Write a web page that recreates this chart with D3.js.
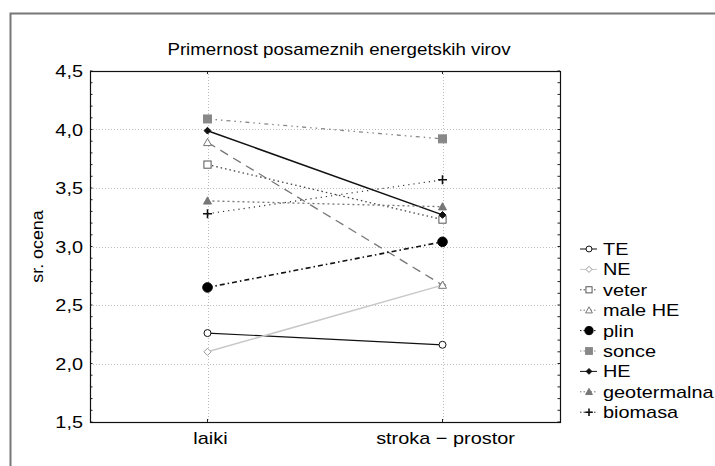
<!DOCTYPE html>
<html>
<head>
<meta charset="utf-8">
<script src="https://d3js.org/d3.v7.min.js"></script>
<style>
  body { margin: 0; background: #fff; }
  svg { display: block; font-family: "Liberation Sans", Arial, sans-serif; }
</style>
</head>
<body>
<svg id="chart" width="715" height="466"></svg>
<script>
const categories = ["laiki", "stroka \u2212 prostor"];
const seriesNames = ["TE", "NE", "veter", "male HE", "plin", "sonce", "HE", "geotermalna", "biomasa"];
const seriesValues = [
    [2.26, 2.16],
    [2.10, 2.67],
    [3.70, 3.23],
    [3.89, 2.67],
    [2.65, 3.04],
    [4.09, 3.92],
    [3.99, 3.27],
    [3.39, 3.34],
    [3.28, 3.57]
];
const yTicks = [1.5, 2.0, 2.5, 3.0, 3.5, 4.0, 4.5];

// line + marker look for each series
const styles = {
    "TE":          { stroke: "#111", width: 1.2, dash: null,           marker: "circle",   fill: "#fff", mstroke: "#111", size: 3.5 },
    "NE":          { stroke: "#c8c8c8", width: 1.5, dash: null,        marker: "diamond",  fill: "#fff", mstroke: "#999", size: 3.6 },
    "veter":       { stroke: "#444", width: 1.3, dash: "1.5,3",        marker: "square",   fill: "#fff", mstroke: "#555", size: 3.6 },
    "male HE":     { stroke: "#777", width: 1.3, dash: "9,6",          marker: "triangle", fill: "#fff", mstroke: "#777", size: 4 },
    "plin":        { stroke: "#111", width: 1.6, dash: "5,3,1.5,3",    marker: "circle",   fill: "#000", mstroke: "#000", size: 4.8 },
    "sonce":       { stroke: "#888", width: 1.3, dash: "4,4,1.5,4,1.5,4", marker: "square", fill: "#888", mstroke: "#888", size: 4 },
    "HE":          { stroke: "#111", width: 1.5, dash: null,           marker: "diamond",  fill: "#111", mstroke: "#111", size: 3.4 },
    "geotermalna": { stroke: "#777", width: 1.3, dash: "2,3",          marker: "triangle", fill: "#777", mstroke: "#777", size: 4 },
    "biomasa":     { stroke: "#333", width: 1.2, dash: "1.2,4",        marker: "plus",     fill: "none", mstroke: "#111", size: 4.5 }
};

const svg = d3.select("#chart");
const margin = { left: 90, top: 71, right: 560, bottom: 422 };
const w = margin.right - margin.left, h = margin.bottom - margin.top;
const SX = 1.17; // text in the original is a bit wide

// text helper, stretched horizontally
function label(sel, tx, ty, str, size, anchor) {
    return sel.append("text")
        .attr("transform", `translate(${tx},${ty}) scale(${SX},1)`)
        .attr("text-anchor", anchor || "start")
        .attr("font-size", size)
        .text(str);
}

// outer frame
svg.append("rect")
    .attr("x", 10.5).attr("y", 13.5)
    .attr("width", 760).attr("height", 500)
    .attr("fill", "none").attr("stroke", "#777").attr("stroke-width", 2);

const x = d3.scalePoint().domain(categories).range([0, w]).padding(0.5);
const y = d3.scaleLinear().domain([1.5, 4.5]).range([h, 0]);

const g = svg.append("g").attr("transform", `translate(${margin.left},${margin.top})`);

// grid
g.selectAll(".hgrid").data(yTicks.filter(t => t > 1.5 && t < 4.5)).join("line")
    .attr("x1", 0).attr("x2", w)
    .attr("y1", d => Math.round(y(d)) + 0.5).attr("y2", d => Math.round(y(d)) + 0.5)
    .attr("stroke", "#bbb").attr("stroke-dasharray", "1,2");
g.selectAll(".vgrid").data(categories).join("line")
    .attr("x1", d => Math.round(x(d)) + 0.5).attr("x2", d => Math.round(x(d)) + 0.5)
    .attr("y1", 0).attr("y2", h)
    .attr("stroke", "#bbb").attr("stroke-dasharray", "1,2");

// minor ticks on left and right edges
const minor = d3.range(15, 46).map(v => v / 10);
["left", "right"].forEach(side => {
    const x0 = side === "left" ? 0 : w;
    const dir = side === "left" ? 1 : -1;
    g.selectAll(".m" + side).data(minor).join("line")
        .attr("x1", x0).attr("x2", x0 + dir * 2.5)
        .attr("y1", d => y(d)).attr("y2", d => y(d))
        .attr("stroke", "#222");
});
// category ticks top and bottom
categories.forEach(c => {
    g.append("line").attr("x1", x(c)).attr("x2", x(c)).attr("y1", 0).attr("y2", 3).attr("stroke", "#222");
    g.append("line").attr("x1", x(c)).attr("x2", x(c)).attr("y1", h).attr("y2", h - 3).attr("stroke", "#222");
});

// plot frame
g.append("rect").attr("x", 0.5).attr("y", 0.5).attr("width", w).attr("height", h)
    .attr("fill", "none").attr("stroke", "#111").attr("stroke-width", 1.2);

// axis labels
yTicks.forEach(t => label(g, -7, y(t) + 6, d3.format(".1f")(t).replace(".", ","), 17, "end"));
categories.forEach(c => label(g, x(c) + 3, h + 22, c, 17, "middle"));

svg.append("text")
    .attr("transform", `translate(43,${margin.top + h / 2}) rotate(-90) scale(1.05,1)`)
    .attr("text-anchor", "middle").attr("font-size", 17)
    .text("sr. ocena");

label(svg, 339, 55, "Primernost posameznih energetskih virov", 16, "middle");

function drawMarker(sel, name, cx, cy, scale) {
    const s = styles[name], r = s.size * scale;
    let m;
    if (s.marker === "circle") {
        m = sel.append("circle").attr("cx", cx).attr("cy", cy).attr("r", r);
    } else if (s.marker === "square") {
        m = sel.append("rect").attr("x", cx - r).attr("y", cy - r).attr("width", 2 * r).attr("height", 2 * r);
    } else if (s.marker === "diamond") {
        m = sel.append("path").attr("d", `M${cx},${cy - r}L${cx + r},${cy}L${cx},${cy + r}L${cx - r},${cy}Z`);
    } else if (s.marker === "triangle") {
        m = sel.append("path").attr("d", `M${cx},${cy - r}L${cx + r},${cy + r * 0.8}L${cx - r},${cy + r * 0.8}Z`);
    } else {
        m = sel.append("path").attr("d", `M${cx - r},${cy}H${cx + r}M${cx},${cy - r}V${cy + r}`).attr("stroke-width", 1.6);
    }
    m.attr("fill", s.fill).attr("stroke", s.mstroke);
    if (s.marker !== "plus") m.attr("stroke-width", 1);
}

const line = d3.line().x((d, i) => x(categories[i])).y(d => y(d));

seriesNames.forEach((name, k) => {
    const s = styles[name];
    g.append("path").datum(seriesValues[k])
        .attr("d", line)
        .attr("fill", "none").attr("stroke", s.stroke).attr("stroke-width", s.width)
        .attr("stroke-dasharray", s.dash);
});
seriesNames.forEach((name, k) => {
    seriesValues[k].forEach((v, i) => drawMarker(g, name, x(categories[i]), y(v), 1));
});

// legend
const legend = svg.append("g").attr("transform", "translate(580,249)");
seriesNames.forEach((name, k) => {
    const s = styles[name], yy = k * 20.4;
    legend.append("line").attr("x1", 0).attr("x2", 17).attr("y1", yy).attr("y2", yy)
        .attr("stroke", s.stroke).attr("stroke-width", 1).attr("stroke-dasharray", s.dash ? "1.5,2" : null);
    drawMarker(legend, name, 9, yy, 0.85);
    label(legend, 23, yy + 6, name, 17);
});
</script>
</body>
</html>
